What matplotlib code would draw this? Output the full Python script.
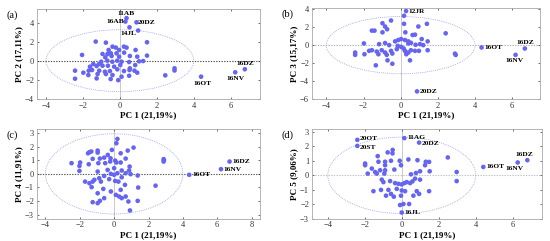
# pca_scores_panels.py

import matplotlib
matplotlib.use("Agg")
import matplotlib.pyplot as plt
from matplotlib.patches import Ellipse

# ---- panel (a): PC1 vs PC2 ----
a_x = [-1.31, -0.76, 1.47, -0.40, -0.22, 0.22, 0.36, -0.04, 0.85, -0.61,
       -2.05, -0.94, -0.67, -0.49, -0.18, 0.23, 0.54, 1.47, -0.79, -0.04,
       -0.45, 0.94, -1.01, -0.68, -0.41, -0.14, 0.09, 0.50, 1.04, 1.26,
       -1.44, -1.13, -1.62, -1.26, -0.94, -0.65, -0.31, 0.02, 0.54, 0.83,
       -1.51, -2.43, -1.98, -1.69, -1.12, -0.81, -0.54, -0.14, 0.22, 0.52,
       0.79, 0.94, -2.43, -1.71, -1.21, -0.76, -0.40, 0.09, 0.50, -1.26,
       -0.09, -0.50, 0.99, 2.46, 2.96, 2.96]
a_y = [2.00, 1.89, 1.93, 1.47, 1.37, 1.47, 1.37, 1.12, 1.12, 1.12,
       0.60, 0.70, 0.70, 0.77, 0.77, 0.84, 0.49, 0.53, 0.35, 0.42,
       0.49, 0.42, -0.11, 0.00, -0.11, 0.00, -0.11, -0.14, -0.07, -0.04,
       -0.35, -0.35, -0.63, -0.56, -0.53, -0.53, -0.63, -0.46, -0.81, -0.46,
       -0.98, -1.05, -1.26, -1.05, -1.05, -1.16, -1.09, -0.91, -1.09, -0.98,
       -1.05, -1.26, -1.89, -1.51, -1.40, -1.40, -1.51, -1.68, -1.58, -1.86,
       -2.04, -1.93, 3.16, -1.54, -0.80, -1.03]
a_names = ["11AB", "16AB", "20DZ", "14JL", "16OT", "16NV", "16DZ"]
a_lx = [0.36, 0.30, 0.90, 0.52, 4.40, 6.25, 6.77]
a_ly = [4.46, 4.10, 4.02, 3.50, -1.68, -1.22, -0.90]

# ---- panel (b): PC1 vs PC3 ----
b_x = [0.18, -0.52, -0.98, -0.84, -0.73, -1.55, -1.41, -0.98, 0.18, 0.95,
       1.41, 0.25, 0.64, 0.77, 1.13, 1.45, -0.30, -0.13, 0.02, 0.23,
       0.41, 0.55, -0.16, 0.02, 0.16, 0.41, 0.80, 1.04, 1.21, -1.98,
       -1.16, -0.84, -0.62, -1.55, -2.45, -2.45, -1.95, -1.70, -1.29, -1.20,
       -1.02, -0.84, -0.75, -0.52, -0.45, -0.21, 0.23, 0.41, 0.55, 0.77,
       0.98, 1.45, -0.71, -1.34, -0.45, 0.50, 0.30, 2.42, 2.92, 2.96]
b_y = [3.28, 2.75, 2.45, 2.08, 1.77, 1.62, 1.62, 1.43, 2.38, 2.08,
       2.38, 1.43, 1.13, 1.17, 0.68, 0.42, 0.42, 0.57, 0.68, 0.57,
       0.42, 0.26, -0.08, -0.19, -0.38, 0.19, 0.04, 0.11, 0.00, 0.19,
       0.11, 0.23, 0.00, -0.57, -0.83, -1.09, -1.02, -0.64, -0.72, -1.02,
       -0.57, -0.83, -1.09, -0.64, -0.94, -0.45, -0.64, -0.83, -0.57, -0.64,
       -0.64, -0.57, -1.70, -2.26, -2.08, -1.70, -1.02, 1.32, -0.95, -1.10]
b_names = ["12JR", "16OT", "16DZ", "16NV", "20DZ"]
b_lx = [0.29, 4.35, 6.68, 6.18, 0.88]
b_ly = [3.81, -0.26, -0.38, -1.09, -5.17]

# ---- panel (c): PC1 vs PC4 ----
c_x = [0.19, 0.13, 1.13, -0.13, 0.79, 0.38, -1.44, -1.52, -1.33, -0.96,
       -0.96, -0.37, -0.58, -0.83, -1.25, -0.21, 0.06, 0.13, 0.67, 0.38,
       0.90, -0.23, -0.52, -0.92, -1.98, -2.48, -2.02, -1.48, -2.02, -0.96,
       -0.38, 0.00, 0.44, 0.87, -0.19, 0.00, 0.19, 0.44, 0.67, 0.96,
       1.37, -0.58, -0.29, 0.06, 0.25, 0.63, -0.87, -0.77, -1.15, -1.25,
       -1.44, -1.69, -1.31, -0.96, -0.63, -0.19, 0.10, 0.29, 0.44, 0.67,
       0.38, 0.83, 1.37, 1.40, -1.25, -0.96, -0.83, -0.58, 0.92, 2.41,
       2.88, 2.90, 2.88]
c_y = [2.58, 2.26, 1.94, 1.77, 1.72, 1.52, 1.60, 1.52, 1.65, 1.72,
       1.57, 1.40, 1.20, 1.13, 1.11, 1.15, 0.98, 0.84, 1.13, 0.84,
       0.54, 0.91, 0.79, 0.79, 0.84, 0.79, 0.59, 0.71, 0.22, 0.17,
       0.29, 0.42, 0.25, 0.25, 0.00, -0.07, 0.05, -0.25, 0.05, -0.02,
       -0.12, -0.15, -0.39, -0.52, -0.57, -0.81, -0.32, -0.57, -0.44, -0.57,
       -0.69, -0.57, -0.98, -1.43, -1.11, -1.30, -1.55, -1.67, -1.79, -1.67,
       -1.18, -2.04, -1.99, -1.01, -2.09, -2.16, -1.99, -1.79, -2.70, -0.87,
       1.09, 1.00, 0.91]
c_names = ["16OT", "16NV", "16DZ"]
c_lx = [4.37, 6.22, 6.72]
c_ly = [-0.07, 0.35, 0.91]

# ---- panel (d): PC1 vs PC5 ----
d_x = [-1.30, -0.76, -0.49, -0.50, -1.98, -1.98, -0.90, -0.90, -1.26, -0.58,
       -0.11, 0.36, 0.85, 1.30, 1.48, -0.04, -1.62, -1.44, -1.84, -1.35,
       -1.17, -0.90, -0.94, -0.40, 0.50, 0.77, 0.99, 1.26, 1.51, -1.08,
       -0.99, -0.63, -0.36, -0.18, 0.00, 0.14, 0.27, 0.45, 0.58, 0.72,
       0.99, -1.12, -0.72, -0.58, -0.85, -0.27, 0.00, 0.18, 0.81, 0.94,
       1.48, 0.63, -0.04, -0.09, 0.09, 0.40, -0.43, -1.53, 2.49, 2.97,
       2.97]
d_y = [1.33, 1.59, 1.76, 1.52, 0.82, 0.70, 0.94, 0.70, 0.94, 1.01,
       1.01, 1.10, 1.05, 0.94, 0.93, 0.70, 0.47, 0.23, 0.12, 0.12,
       0.35, 0.35, 0.12, 0.40, 0.07, 0.16, 0.28, 0.70, 0.28, -0.30,
       -0.47, -0.40, -0.54, -0.59, -0.63, -0.54, -0.47, -0.54, -0.42, -0.23,
       -0.30, -1.01, -1.01, -1.29, -1.41, -0.94, -1.05, -1.10, -1.10, -1.29,
       -1.10, -1.41, -1.41, -2.06, -1.99, -1.99, -1.48, -1.10, 1.24, 0.23,
       -0.40]
d_names = ["20OT", "20ST", "11AG", "20DZ", "16JL", "16OT", "16NV", "16DZ"]
d_lx = [-2.40, -2.40, 0.14, 0.94, 0.00, 4.41, 6.27, 6.79]
d_ly = [2.46, 2.04, 2.58, 2.27, -2.58, 0.58, 0.89, 1.05]

pc1_label = "PC 1 (21,19%)"

plt.rcParams["font.family"] = ["Liberation Serif", "DejaVu Serif"]

DOT = "#6565f2"
ELL = "#9c9ce8"
LABEL_FS = 5.3

fig = plt.figure(figsize=(5.5, 2.41), dpi=100)


def draw_panel(rect, xs, ys, names, lx, ly, offsets, xlim, ylim, xticks, yticks,
               ylabel, tag, ell_h, hline_col):
    ax = fig.add_axes(rect)
    ax.set_xlim(*xlim)
    ax.set_ylim(*ylim)
    ax.axhline(0, color=hline_col, lw=0.8, ls=(0, (1.2, 1.2)), zorder=1)
    ax.axvline(0, color="#c0c0c0", lw=0.6, zorder=1)
    ax.add_patch(Ellipse((0, 0), 8, 2 * ell_h, fill=False, ec=ELL, lw=0.6,
                         ls=(0, (1, 1.3)), zorder=1))
    ax.scatter(xs, ys, s=11, c=DOT, edgecolors="none", zorder=3)
    ax.scatter(lx, ly, s=11, c=DOT, edgecolors="none", zorder=3)
    for name, x, y in zip(names, lx, ly):
        dx, dy, ha, va = offsets[name]
        ax.annotate(name, (x, y), xytext=(dx, dy), textcoords="offset points",
                    ha=ha, va=va, fontsize=LABEL_FS, fontweight="bold", zorder=4)
    ax.set_xticks(xticks)
    ax.set_yticks(yticks)
    ax.tick_params(labelsize=6, length=1.5, width=0.5, direction="in",
                   top=True, right=True, pad=2, colors="#333333")
    for s in ax.spines.values():
        s.set_color("#a8a8a8")
        s.set_linewidth(0.6)
    ax.set_xlabel(pc1_label, fontsize=6.5, fontweight="bold", labelpad=1)
    ax.set_ylabel(ylabel, fontsize=6.5, fontweight="bold", labelpad=1)
    fig.text(rect[0] - 0.055, rect[1] + rect[3] - 0.035, tag, fontsize=7.5)
    return ax


off_a = {"11AB": (0, 1.5, "center", "bottom"), "16AB": (-1, 0, "right", "center"),
         "20DZ": (1, 0, "left", "center"), "14JL": (-1, -2.5, "center", "top"),
         "16OT": (1, -3, "center", "top"), "16NV": (0, -2.5, "center", "top"),
         "16DZ": (0, 2, "center", "bottom")}
off_b = {"12JR": (2, 0, "left", "center"), "16OT": (2, 0, "left", "center"),
         "16DZ": (0, 2.5, "center", "bottom"), "16NV": (-1, -2.5, "center", "top"),
         "20DZ": (2, 0, "left", "center")}
off_c = {"16OT": (2, 0, "left", "center"), "16NV": (2, 0, "left", "center"),
         "16DZ": (2, 0, "left", "center")}
off_d = {"20OT": (2, 0.8, "left", "center"), "20ST": (2, -0.8, "left", "center"),
         "11AG": (2, 0.8, "left", "center"), "20DZ": (2, -0.8, "left", "center"),
         "16JL": (2, 0, "left", "center"), "16OT": (2, 0, "left", "center"),
         "16NV": (-2, -2.5, "center", "top"), "16DZ": (-2, 2.5, "center", "bottom")}

draw_panel([0.067, 0.590, 0.406, 0.372], a_x, a_y, a_names, a_lx, a_ly, off_a,
           (-4.5, 7.6), (-4, 5.4), [-4, -2, 0, 2, 4, 6], [-4, -2, 0, 2, 4],
           "PC 2 (17,11%)", "(a)", 3.25, "#555555")
draw_panel([0.567, 0.590, 0.415, 0.375], b_x, b_y, b_names, b_lx, b_ly, off_b,
           (-4.78, 7.5), (-6, 4.1), [-4, -2, 0, 2, 4, 6], [-6, -4, -2, 0, 2, 4],
           "PC 3 (15,17%)", "(b)", 3.2, "#b0b0b0")
draw_panel([0.067, 0.093, 0.406, 0.371], c_x, c_y, c_names, c_lx, c_ly, off_c,
           (-4.5, 8.5), (-3.3, 3.3), [-4, -2, 0, 2, 4, 6, 8], [-3, -2, -1, 0, 1, 2, 3],
           "PC 4 (11,91%)", "(c)", 2.96, "#555555")
draw_panel([0.567, 0.093, 0.418, 0.371], d_x, d_y, d_names, d_lx, d_ly, off_d,
           (-4.86, 7.57), (-3, 3.2), [-4, -2, 0, 2, 4, 6], [-3, -2, -1, 0, 1, 2, 3],
           "PC 5 (9,06%)", "(d)", 2.65, "#c0c0c0")

fig.savefig("out.png", dpi=100)
